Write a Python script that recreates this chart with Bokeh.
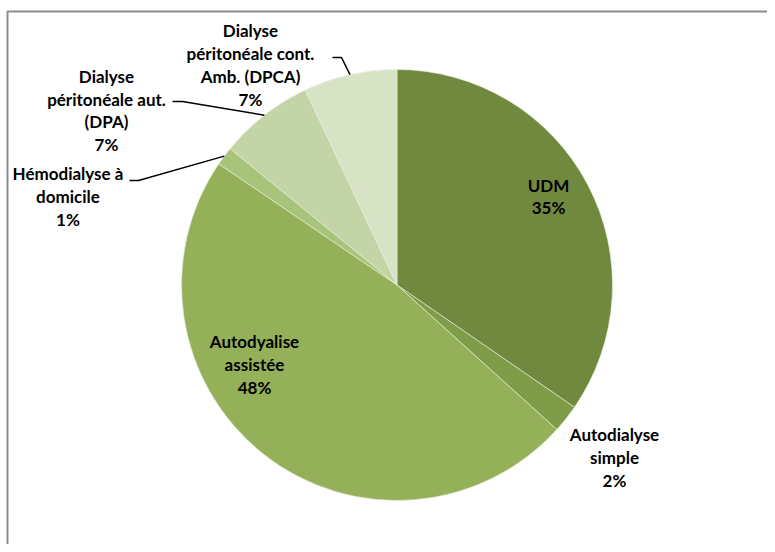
import math
from bokeh.plotting import figure
from bokeh.models import ColumnDataSource, Range1d
from bokeh.core.properties import value
from bokeh.embed import file_html
from bokeh.resources import INLINE

# ---- data ----
categories = ["UDM", "Autodialyse simple", "Autodyalise assistée",
              "Hémodialyse à domicile", "Dialyse péritonéale aut. (DPA)",
              "Dialyse péritonéale cont. Amb. (DPCA)"]
label_names = ["UDM", "Autodialyse\nsimple", "Autodyalise\nassistée",
               "Hémodialyse à\ndomicile", "Dialyse\npéritonéale aut.\n(DPA)",
               "Dialyse\npéritonéale cont.\nAmb. (DPCA)"]
shares = [34.6, 2.1, 47.8, 1.4, 7.1, 7.0]

# ---- styles ----
colors = ["#71893F", "#7F9C48", "#94B159", "#A8C37A", "#C3D4A6", "#D8E3C6"]
W, H = 767, 544
cx, cy, R = 396.5, H - 284.5, 215.5
# label block centres (canvas px, y measured from top)
label_px = [(548, 196), (614, 457), (254, 364), (67.5, 196), (106, 110), (250, 64.5)]
# leader: (start x, elbow x, y) in canvas px from top, None = no leader
leader_px = [None, None, None, (129, 138, 180), (172, 182, 101), (332, 341, 57)]

total = sum(shares)
cum = 0.0
starts, ends, mids = [], [], []
for v in shares:
    a0 = cum / total
    cum += v
    a1 = cum / total
    starts.append(math.pi / 2 - a0 * 2 * math.pi)
    ends.append(math.pi / 2 - a1 * 2 * math.pi)
    mids.append(math.pi / 2 - (a0 + a1) / 2 * 2 * math.pi)

src = ColumnDataSource(dict(start=starts, end=ends, color=colors, cat=categories))

p = figure(width=W, height=H, output_backend="svg", toolbar_location=None,
           x_range=Range1d(0, W), y_range=Range1d(0, H),
           min_border=0, min_border_left=0, min_border_right=0,
           min_border_top=0, min_border_bottom=0)
p.axis.visible = False
p.grid.visible = False
p.outline_line_color = None
p.background_fill_color = "white"
p.border_fill_color = "white"

p.wedge(x=cx, y=cy, radius=R, start_angle="start", end_angle="end",
        direction="clock", fill_color="color", line_color="#E8EEDC",
        line_width=0.6, source=src)

# chart-area border (top and left visible)
p.line(x=[7, 7, W], y=[0, H - 11, H - 11], line_color="#8C8C8C", line_width=2)

# leader lines
for i, ld in enumerate(leader_px):
    if ld is None:
        continue
    x0, xe, yt = ld
    ex = cx + R * math.cos(mids[i])
    ey = cy + R * math.sin(mids[i])
    p.line(x=[x0, xe, ex], y=[H - yt, H - yt, ey], line_color="black", line_width=1.5)

texts = [f"{n}\n{round(v / total * 100)}%" for n, v in zip(label_names, shares)]
lx = [a for a, b in label_px]
ly = [H - b for a, b in label_px]
p.text(x=lx, y=ly, text=texts, text_align="center", text_baseline="middle",
       text_font=value("Lato"), text_font_style="bold", text_font_size="17px",
       text_line_height=1.08, text_color="black")

open("out.html", "w").write(file_html(p, INLINE))
